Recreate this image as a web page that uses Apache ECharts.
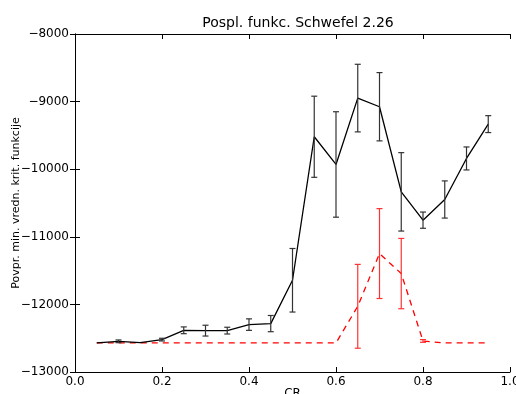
<!DOCTYPE html>
<html>
<head>
<meta charset="utf-8">
<script src="https://cdn.jsdelivr.net/npm/echarts@6/dist/echarts.min.js"></script>
<style>
  html, body { margin: 0; padding: 0; background: #fff; }
  #chart { width: 516px; height: 394px; }
</style>
</head>
<body>
<div id="chart"></div>
<script>
// CR values
const crValues = [0.05, 0.10, 0.15, 0.20, 0.25, 0.30, 0.35, 0.40, 0.45, 0.50,
                  0.55, 0.60, 0.65, 0.70, 0.75, 0.80, 0.85, 0.90, 0.95];

// black solid series: mean and error
const blackMean = [-12570, -12546, -12566, -12521, -12383, -12388, -12388, -12299, -12284, -11643,
                   -9520, -9930, -8948, -9076, -10335, -10754, -10448, -9841, -9333];
const blackErr = [0, 20, 0, 20, 50, 80, 50, 85, 120, 470,
                  600, 780, 500, 505, 580, 120, 275, 170, 125];

// red dashed series: mean and error
const redMean = [-12570, -12570, -12570, -12570, -12570, -12570, -12570, -12570, -12570, -12570,
                 -12570, -12570, -12028, -11248, -11544, -12541, -12570, -12570, -12570];
const redErr = [0, 0, 0, 0, 0, 0, 0, 0, 0, 0,
                0, 0, 620, 665, 520, 20, 0, 0, 0];

const yTicks = [-13000, -12000, -11000, -10000, -9000, -8000];

const chart = echarts.init(document.getElementById('chart'));

function errBars(mean, err) {
  return crValues.map((x, i) => [x, mean[i] - err[i], mean[i] + err[i]])
    .filter((d) => d[2] > d[1]);
}

function renderErr(color) {
  return function (params, api) {
    const lo = api.coord([api.value(0), api.value(1)]);
    const hi = api.coord([api.value(0), api.value(2)]);
    const w = 3;
    const style = { stroke: color, lineWidth: 1.2 };
    return {
      type: 'group',
      children: [
        { type: 'line', shape: { x1: lo[0], y1: lo[1], x2: hi[0], y2: hi[1] }, style },
        { type: 'line', shape: { x1: lo[0] - w, y1: lo[1], x2: lo[0] + w, y2: lo[1] }, style },
        { type: 'line', shape: { x1: hi[0] - w, y1: hi[1], x2: hi[0] + w, y2: hi[1] }, style },
      ],
    };
  };
}

const fontFamily = 'DejaVu Sans';
const minus = (v) => String(v).replace('-', '\u2212');

const tickStyle = { show: true, inside: true, length: 5, lineStyle: { color: '#000' } };

const option = {
  backgroundColor: '#fff',
  animation: false,
  title: {
    text: 'Pospl. funkc. Schwefel 2.26',
    top: 11,
    left: 293,
    textAlign: 'center',
    textStyle: { color: '#000', fontSize: 14, fontWeight: 'normal', fontFamily },
  },
  grid: { left: 75, right: 6, top: 34, bottom: 22, outerBoundsMode: 'none' },
  xAxis: [
    {
      type: 'value',
      min: 0, max: 1, interval: 0.2,
      name: 'CR',
      nameLocation: 'middle',
      nameGap: 16,
      nameMoveOverlap: false,
      nameTextStyle: { color: '#000', fontSize: 12, fontFamily },
      axisLine: { show: true, lineStyle: { color: '#000' } },
      axisTick: tickStyle,
      axisLabel: { color: '#000', fontSize: 12, fontFamily, margin: 4, formatter: (v) => v.toFixed(1) },
      splitLine: { show: false },
    },
    {
      type: 'value',
      position: 'top',
      min: 0, max: 1, interval: 0.2,
      axisLine: { show: true, lineStyle: { color: '#000' } },
      axisTick: tickStyle,
      axisLabel: { show: false },
      splitLine: { show: false },
    },
  ],
  yAxis: [
    {
      type: 'value',
      min: yTicks[0], max: yTicks[yTicks.length - 1], interval: 1000,
      name: 'Povpr. min. vredn. krit. funkcije',
      nameLocation: 'middle',
      nameGap: 53,
      nameMoveOverlap: false,
      nameTextStyle: { color: '#000', fontSize: 11, fontFamily },
      axisLine: { show: true, lineStyle: { color: '#000' } },
      axisTick: tickStyle,
      axisLabel: { color: '#000', fontSize: 12, fontFamily, margin: 6, formatter: minus },
      splitLine: { show: false },
    },
    {
      type: 'value',
      position: 'right',
      min: yTicks[0], max: yTicks[yTicks.length - 1], interval: 1000,
      axisLine: { show: true, lineStyle: { color: '#000' } },
      axisTick: tickStyle,
      axisLabel: { show: false },
      splitLine: { show: false },
    },
  ],
  series: [
    {
      type: 'line',
      data: crValues.map((x, i) => [x, redMean[i]]),
      symbol: 'none',
      lineStyle: { color: '#ff0000', width: 1.3, type: [6, 5] },
      z: 2,
    },
    {
      type: 'custom',
      data: errBars(redMean, redErr),
      renderItem: renderErr('#ff3333'),
      z: 3,
    },
    {
      type: 'line',
      data: crValues.map((x, i) => [x, blackMean[i]]),
      symbol: 'none',
      lineStyle: { color: '#000', width: 1.3 },
      z: 4,
    },
    {
      type: 'custom',
      data: errBars(blackMean, blackErr),
      renderItem: renderErr('#333'),
      z: 5,
    },
  ],
};

chart.setOption(option);
</script>
</body>
</html>
